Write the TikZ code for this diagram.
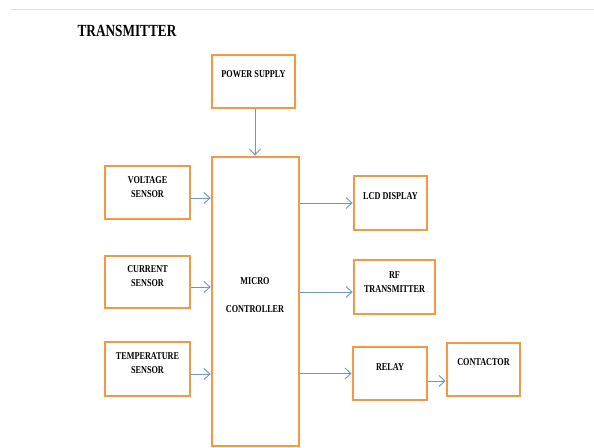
\documentclass[tikz,border=0pt]{standalone}
\usepackage{fontspec}
\setmainfont{Liberation Serif}
\newfontfamily\blockfont[FakeStretch=0.78]{Liberation Serif}
\usetikzlibrary{arrows.meta}
\definecolor{boxorange}{RGB}{247,150,70}
\definecolor{linkblue}{RGB}{110,150,205}
\tikzset{
  block/.style 2 args={draw=boxorange, line width=2.8pt, minimum width=#1, minimum height=#2, inner sep=0pt},
  blocktext/.style={align=center, inner sep=0pt, font=\blockfont\bfseries\fontsize{10.5}{14}\selectfont},
  link/.style={draw=linkblue, line width=0.9pt, -{Straight Barb[length=6pt,width=11pt,line width=0.9pt]}}
}

\begin{document}
\begin{tikzpicture}[x=1pt,y=-1pt]
        \useasboundingbox[fill=white] (0,0) rectangle (594,447);
        \draw[black!12, line width=0.6pt] (11,9) -- (594,9);
        \node[font=\blockfont\bfseries\fontsize{17}{20}\selectfont, inner sep=0pt] (title) at (127,31) {TRANSMITTER};
        % blocks
        \node[block={83pt}{53pt}] (ps) at (253.5,81.5) {};
        \node[block={87pt}{289pt}] (mc) at (255.5,301.5) {};
        \node[block={85pt}{53pt}] (vs) at (147.5,192.5) {};
        \node[block={85pt}{52pt}] (cs) at (147.5,282) {};
        \node[block={85pt}{54pt}] (ts) at (147.5,369) {};
        \node[block={73pt}{54pt}] (lcd) at (390.5,203) {};
        \node[block={81pt}{54pt}] (rf) at (394.5,287) {};
        \node[block={74pt}{53pt}] (rl) at (390,373.5) {};
        \node[block={73pt}{53pt}] (ct) at (483.5,369.5) {};
        % labels
        \node[blocktext] (pstext) at (253.5,74) {POWER SUPPLY};
        \node[blocktext] (mctext) at (255,295) {MICRO\\[14pt]CONTROLLER};
        \node[blocktext] (vstext) at (147.5,187) {VOLTAGE\\SENSOR};
        \node[blocktext] (cstext) at (147.5,276.5) {CURRENT\\SENSOR};
        \node[blocktext] (tstext) at (147.5,363) {TEMPERATURE\\SENSOR};
        \node[blocktext] (lcdtext) at (390.5,196) {LCD DISPLAY};
        \node[blocktext] (rftext) at (394.5,282) {RF\\TRANSMITTER};
        \node[blocktext] (rltext) at (390,367) {RELAY};
        \node[blocktext] (cttext) at (483.5,362) {CONTACTOR};
        % links
        \draw[link] ([xshift=1.5pt]ps.south) to ([xshift=1.5pt]ps.south |- mc.north);
        \draw[link] ([yshift=-5.5pt]vs.east) to ([yshift=-5.5pt]vs.east -| mc.west);
        \draw[link] ([yshift=-5pt]cs.east) to ([yshift=-5pt]cs.east -| mc.west);
        \draw[link] ([yshift=-5pt]ts.east) to ([yshift=-5pt]ts.east -| mc.west);
        \draw[link] (lcd.west -| mc.east) to (lcd.west);
        \draw[link] ([yshift=-5pt]rf.west -| mc.east) to ([yshift=-5pt]rf.west);
        \draw[link] (rl.west -| mc.east) to (rl.west);
        \draw[link] ([yshift=-7.5pt]rl.east) to ([yshift=-7.5pt]rl.east -| ct.west);
      \end{tikzpicture}
\end{document}
